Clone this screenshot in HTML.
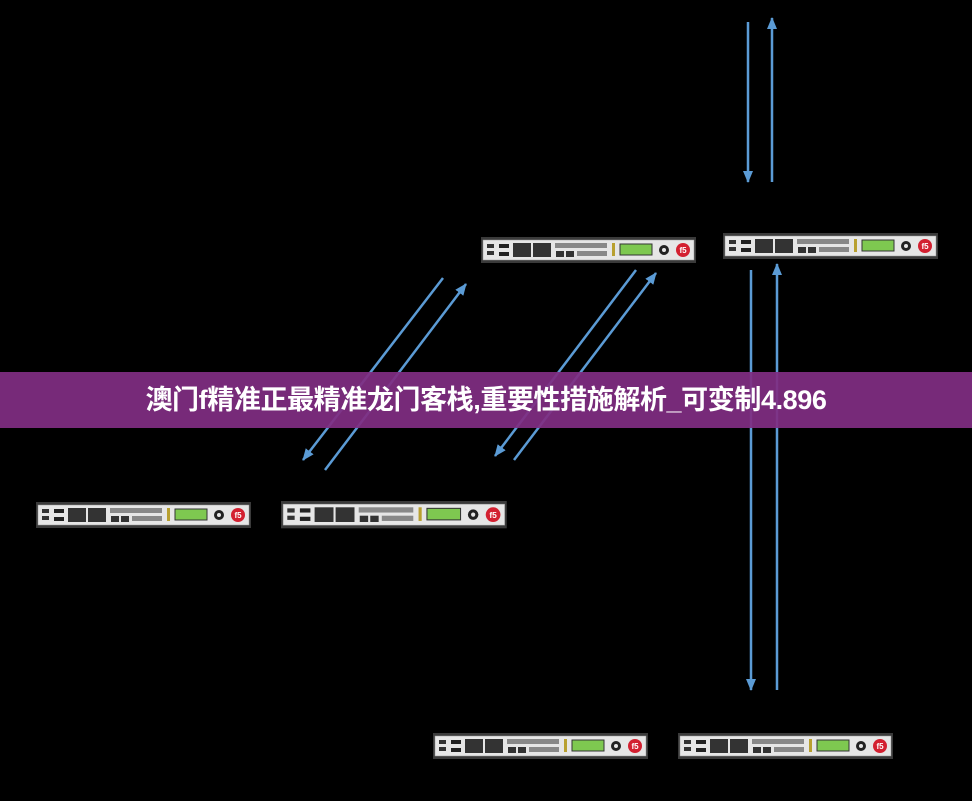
<!DOCTYPE html>
<html><head><meta charset="utf-8"><style>
html,body{margin:0;padding:0;background:#000;width:972px;height:801px;overflow:hidden;position:relative}
svg{position:absolute;left:0;top:0}
.ban{position:absolute;left:0;top:372px;width:972px;height:56px;background:rgba(128,45,130,0.93);color:#fff;font:bold 27px "Liberation Sans","Noto Sans CJK SC",sans-serif;text-align:center;line-height:56px;letter-spacing:-0.4px}
</style></head><body>
<svg width="972" height="801" viewBox="0 0 972 801">
<defs>
<marker id="a" markerWidth="12" markerHeight="10" refX="11" refY="5" orient="auto" markerUnits="userSpaceOnUse" viewBox="0 0 12 10"><path d="M0,0 L12,5 L0,10 z" fill="#5b9bd5"/></marker>
<g id="dev">
<rect x="0" y="0" width="215" height="26" fill="#3a3a3a"/>
<rect x="2" y="3" width="211" height="20" fill="#e6e6e6" stroke="#999" stroke-width="0.5"/>
<rect x="6" y="7" width="7" height="4" fill="#333"/><rect x="6" y="14" width="7" height="4" fill="#333"/>
<rect x="18" y="7" width="10" height="4" fill="#222"/><rect x="18" y="15" width="10" height="4" fill="#222"/>
<rect x="32" y="6" width="18" height="14" fill="#333"/><rect x="52" y="6" width="18" height="14" fill="#333"/>
<rect x="74" y="6" width="52" height="5" fill="#888"/>
<rect x="75" y="14" width="8" height="6" fill="#333"/><rect x="85" y="14" width="8" height="6" fill="#333"/>
<rect x="96" y="14" width="30" height="5" fill="#888"/>
<rect x="131" y="6" width="3" height="13" fill="#b8a030"/>
<rect x="139" y="7" width="32" height="11" fill="#7ec850" stroke="#333" stroke-width="1"/>
<circle cx="183" cy="13" r="5" fill="#222"/><circle cx="183" cy="13" r="2" fill="#e6e6e6"/>
<circle cx="202" cy="13" r="7" fill="#d32030"/>
<text x="202" y="16" font-size="8" font-weight="bold" fill="#fff" text-anchor="middle" font-family="Liberation Sans,sans-serif">f5</text>
</g>
</defs>
<use href="#dev" x="481" y="237"/>
<use href="#dev" x="723" y="233"/>
<use href="#dev" x="36" y="502"/>
<g transform="translate(281,501) scale(1.05,1.05)"><use href="#dev"/></g>
<use href="#dev" x="433" y="733"/>
<use href="#dev" x="678" y="733"/>
<g stroke="#5b9bd5" stroke-width="2.5" fill="none" marker-end="url(#a)">
<line x1="748" y1="22" x2="748" y2="182"/>
<line x1="772" y1="182" x2="772" y2="18"/>
<line x1="751" y1="270" x2="751" y2="690"/>
<line x1="777" y1="690" x2="777" y2="264"/>
<line x1="443" y1="278" x2="303" y2="460"/>
<line x1="325" y1="470" x2="466" y2="284"/>
<line x1="636" y1="270" x2="495" y2="456"/>
<line x1="514" y1="460" x2="656" y2="273"/>
</g>
</svg>
<div class="ban">澳门f精准正最精准龙门客栈,重要性措施解析_可变制4.896</div>
</body></html>
